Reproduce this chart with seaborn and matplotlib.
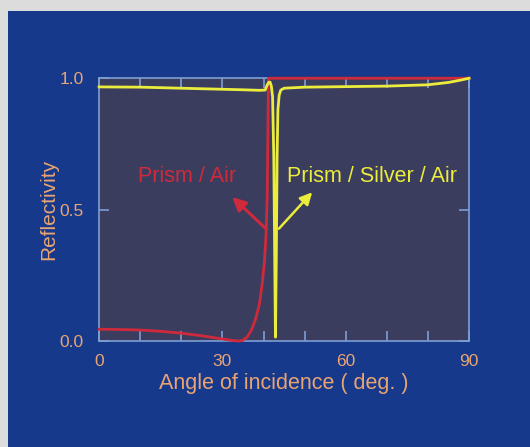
import numpy as np
import pandas as pd
import seaborn as sns
import matplotlib.pyplot as plt
from matplotlib.patches import Rectangle

# values
air_angle = [0, 5, 10, 15, 20, 25, 30, 32, 34, 35, 36, 37, 38, 39, 39.7, 40.2,
             40.6, 40.9, 41.0, 41.1, 41.2, 50, 60, 70, 80, 90]
air_refl = [0.045, 0.044, 0.042, 0.037, 0.03, 0.02, 0.008, 0.003, 0.0, 0.003, 0.015,
            0.04, 0.08, 0.14, 0.22, 0.3, 0.4, 0.55, 0.7, 0.85, 1.0, 1.0, 1.0, 1.0,
            1.0, 1.0]

silver_angle = [0, 10, 20, 30, 35, 39, 40.4, 40.9, 41.3, 41.6, 41.9, 42.2, 42.5,
                42.7, 42.9, 43.1, 43.3, 43.5, 43.8, 44.2, 45.0, 50, 60, 70, 80, 85,
                88, 90]
silver_refl = [0.967, 0.966, 0.962, 0.958, 0.956, 0.954, 0.955, 0.975, 0.985, 0.985,
               0.97, 0.93, 0.7, 0.35, 0.015, 0.3, 0.7, 0.88, 0.935, 0.955, 0.962,
               0.966, 0.968, 0.97, 0.975, 0.984, 0.993, 1.0]

x_ticks = [0, 30, 60, 90]
y_ticks = [0.0, 0.5, 1.0]

df_air = pd.DataFrame({"angle": air_angle, "refl": air_refl})
df_silver = pd.DataFrame({"angle": silver_angle, "refl": silver_refl})

blue = "#16398c"
face = "#3a3d5e"
frame = "#7f9ed4"
label_col = "#eaa472"
red = "#cf2a3c"
yellow = "#ecec3c"

plt.rcParams["font.family"] = ["Liberation Sans", "DejaVu Sans"]

fig = plt.figure(figsize=(5.30, 4.47), dpi=100, facecolor="#dcdcdc")
fig.patches.append(Rectangle((0.015, 0), 0.985, 0.976, transform=fig.transFigure,
                             facecolor=blue, edgecolor="none", zorder=-10))
ax = fig.add_axes([0.187, 0.237, 0.698, 0.588])
ax.set_facecolor(face)

sns.lineplot(data=df_air, x="angle", y="refl", color=red, linewidth=2.0, ax=ax,
             zorder=3, clip_on=False)
sns.lineplot(data=df_silver, x="angle", y="refl", color=yellow, linewidth=2.0, ax=ax,
             zorder=3, clip_on=False)

ax.set_xlim(0, 90)
ax.set_ylim(0, 1.0)
ax.set_xticks(x_ticks)
ax.set_xticks(np.arange(0, 91, 10), minor=True)
ax.set_yticks(y_ticks)
ax.set_yticklabels(["0.0", "0.5", "1.0"])
ax.tick_params(which="both", direction="in", length=7, width=1.2, color=frame,
               top=True, right=True, labelcolor=label_col, labelsize=12.5)
ax.tick_params(axis="x", pad=9)
ax.tick_params(axis="y", pad=11)
for s in ax.spines.values():
    s.set_color(frame)
    s.set_linewidth(1.2)

ax.set_xlabel("Angle of incidence ( deg. )", color=label_col, fontsize=15.5, labelpad=3)
ax.set_ylabel("Reflectivity", color=label_col, fontsize=15, labelpad=1)

ax.annotate("", xy=(31.9, 0.555), xytext=(41.1, 0.42),
            arrowprops=dict(arrowstyle="-|>", color=red, lw=2.2, mutation_scale=20))
ax.annotate("", xy=(52.3, 0.574), xytext=(43.3, 0.42),
            arrowprops=dict(arrowstyle="-|>", color=yellow, lw=1.8, mutation_scale=18))
ax.text(21.4, 0.625, "Prism / Air", color=red, fontsize=15.5, ha="center", va="center")
ax.text(66.4, 0.625, "Prism / Silver / Air", color=yellow, fontsize=15.5,
        ha="center", va="center")

fig.savefig("out.png", dpi=100, facecolor=fig.get_facecolor())
